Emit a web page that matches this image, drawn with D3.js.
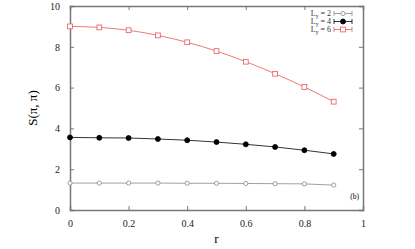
<!DOCTYPE html>
<html>
<head>
<meta charset="utf-8">
<script src="https://cdn.jsdelivr.net/npm/d3@7"></script>
<style>
body { margin: 0; background: #fff; }
text { font-family: "Liberation Serif", "DejaVu Serif", serif; }
</style>
</head>
<body>
<svg id="chart"></svg>
<script>
// data
var rVals = [0, 0.1, 0.2, 0.3, 0.4, 0.5, 0.6, 0.7, 0.8, 0.9];
var sLy2 = [1.32, 1.32, 1.32, 1.32, 1.31, 1.31, 1.30, 1.29, 1.28, 1.22];
var sLy4 = [3.56, 3.54, 3.53, 3.48, 3.42, 3.33, 3.22, 3.09, 2.93, 2.75];
var sLy6 = [9.00, 8.95, 8.81, 8.56, 8.22, 7.79, 7.27, 6.68, 6.03, 5.31];
var legendLabels = ["2", "4", "6"];
var xTicks = [0, 0.2, 0.4, 0.6, 0.8, 1];
var yTicks = [0, 2, 4, 6, 8, 10];

var W = 415, H = 249;
var margin = {top: 6, right: 52, bottom: 39, left: 70},
width = W - margin.left - margin.right,
height = H - margin.top - margin.bottom;

var svg = d3.select("#chart")
.attr("width", W)
.attr("height", H)
.append("g")
.attr("transform", "translate(" + margin.left + "," + margin.top + ")");

var x = d3.scaleLinear().domain([0, 1]).range([0, width]);
var y = d3.scaleLinear().domain([0, 10]).range([height, 0]);

var axisCol = "#777";

// axes, ticks inward on all four sides
var gBottom = svg.append("g")
.attr("transform", "translate(0," + height + ")")
.call(d3.axisBottom(x).tickValues(xTicks).tickSize(-4).tickPadding(10).tickFormat(d3.format("")));
var gLeft = svg.append("g")
.call(d3.axisLeft(y).tickValues(yTicks).tickSize(-4).tickPadding(10));
var gTop = svg.append("g")
.call(d3.axisTop(x).tickValues(xTicks).tickSize(-4).tickFormat(""));
var gRight = svg.append("g")
.attr("transform", "translate(" + width + ",0)")
.call(d3.axisRight(y).tickValues(yTicks).tickSize(-4).tickFormat(""));

[gBottom, gLeft, gTop, gRight].forEach(function(g) {
  g.attr("font-family", null);
  g.select(".domain").attr("stroke", axisCol).attr("stroke-width", 1.5);
  g.selectAll(".tick line").attr("stroke", axisCol);
  g.selectAll(".tick text").attr("fill", "#222").attr("font-size", 10);
});
// hide end ticks that overlap the frame
[gBottom, gTop].forEach(function(g) {
  g.selectAll(".tick").filter(function(d) { return d == 0 || d == 1; }).select("line").remove();
});
[gLeft, gRight].forEach(function(g) {
  g.selectAll(".tick").filter(function(d) { return d == 0 || d == 10; }).select("line").remove();
});

// axis titles
svg.append("text")
.attr("x", width / 2)
.attr("y", height + 33)
.attr("text-anchor", "middle")
.attr("font-size", 13)
.text("r");
svg.append("text")
.attr("transform", "translate(-33," + (height / 2) + ") rotate(-90)")
.attr("text-anchor", "middle")
.attr("font-size", 13)
.text("S(π, π)");

svg.append("text")
.attr("x", width - 4)
.attr("y", height - 11)
.attr("text-anchor", "end")
.attr("font-size", 7.5)
.text("(b)");

var series = [
  {vals: sLy2, color: "#888", shape: "circle", fill: "white", size: 2.1, smooth: false},
  {vals: sLy4, color: "#000", shape: "circle", fill: "#000", size: 2.5, smooth: false},
  {vals: sLy6, color: "#ee5555", shape: "square", fill: "white", size: 2.4, smooth: true}
];

series.forEach(function(s, i) {
  var data = rVals.map(function(r, j) { return {r: r, v: s.vals[j]}; });
  svg.append("path")
  .datum(data)
  .attr("fill", "none")
  .attr("stroke", s.color)
  .attr("stroke-width", 0.8)
  .attr("d", d3.line()
    .curve(s.smooth ? d3.curveMonotoneX : d3.curveLinear)
    .x(function(d) { return x(d.r); })
    .y(function(d) { return y(d.v); }));

  drawMarker(svg, data.map(function(d) { return [x(d.r), y(d.v)]; }), s);

  // legend
  var ly = 7.5 + i * 8;
  var lx0 = 264, lx1 = 282;
  var lg = svg.append("g");
  lg.append("text")
  .attr("x", lx0 - 3)
  .attr("y", ly + 2.5)
  .attr("text-anchor", "end")
  .attr("font-size", 8)
  .attr("fill", "#333")
  .html("L<tspan dy='1.5' font-size='5.5'>y</tspan><tspan dy='-1.5'> = " + legendLabels[i] + "</tspan>");
  lg.append("line").attr("x1", lx0).attr("x2", lx1).attr("y1", ly).attr("y2", ly)
  .attr("stroke", s.color).attr("stroke-width", 0.8);
  [lx0, lx1].forEach(function(xx) {
    lg.append("line").attr("x1", xx).attr("x2", xx).attr("y1", ly - 2.5).attr("y2", ly + 2.5)
    .attr("stroke", s.color).attr("stroke-width", 0.8);
  });
  drawMarker(lg, [[(lx0 + lx1) / 2, ly]], s);
});

function drawMarker(g, pts, s) {
  pts.forEach(function(p) {
    if (s.shape == "square") {
      g.append("rect").attr("x", p[0] - s.size).attr("y", p[1] - s.size)
      .attr("width", 2 * s.size).attr("height", 2 * s.size)
      .attr("fill", s.fill).attr("stroke", s.color).attr("stroke-width", 0.8);
    } else {
      g.append("circle").attr("cx", p[0]).attr("cy", p[1]).attr("r", s.size)
      .attr("fill", s.fill).attr("stroke", s.color).attr("stroke-width", 0.8);
    }
  });
}
</script>
</body>
</html>
